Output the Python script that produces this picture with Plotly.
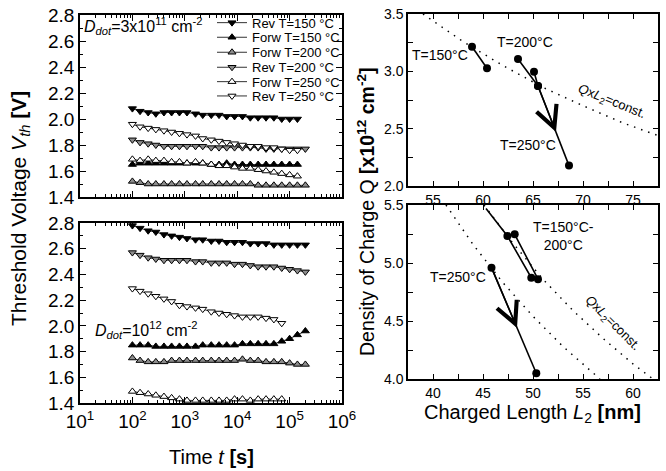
import plotly.graph_objects as go

FONT = "Liberation Sans, Arial, sans-serif"
W, H = 666, 471

# ---------------- data: left panels (threshold voltage vs time) ----------------
t_s = [100, 140, 200, 280, 400, 560, 790, 1100, 1600, 2200, 3200, 4500, 6300,
       8900, 12600, 17800, 25100, 35500, 50100, 70800, 100000, 141000, 200000]

# D_dot = 3x10^11 cm^-2
rev150_a = [2.08, 2.06, 2.05, 2.04, 2.05, 2.05, 2.05, 2.05, 2.04, 2.03, 2.03, 2.03,
            2.02, 2.02, 2.02, 2.01, 2.01, 2.01, 2.01, 2.00, 2.00, 2.00]
forw150_a = [1.65, 1.66, 1.66, 1.66, 1.66, 1.66, 1.66, 1.66, 1.66, 1.66, 1.65, 1.65,
             1.66, 1.65, 1.65, 1.65, 1.65, 1.65, 1.65, 1.65, 1.65, 1.65]
forw200_a = [1.52, 1.51, 1.50, 1.50, 1.50, 1.50, 1.50, 1.50, 1.50, 1.50, 1.50, 1.50,
             1.50, 1.50, 1.50, 1.50, 1.49, 1.49, 1.49, 1.49, 1.49, 1.49, 1.49]
rev200_a = [1.84, 1.82, 1.81, 1.80, 1.79, 1.79, 1.79, 1.79, 1.79, 1.79, 1.78, 1.78,
            1.78, 1.78, 1.78, 1.78, 1.78, 1.77, 1.77, 1.77, 1.77, 1.77, 1.77]
forw250_a = [1.69, 1.68, 1.69, 1.68, 1.68, 1.67, 1.67, 1.66, 1.67, 1.66, 1.65, 1.64,
             1.64, 1.63, 1.62, 1.62, 1.61, 1.60, 1.59, 1.58, 1.57, 1.56]
rev250_a = [1.96, 1.94, 1.93, 1.92, 1.91, 1.90, 1.89, 1.88, 1.87, 1.85, 1.84, 1.83,
            1.82, 1.81, 1.80, 1.79, 1.79, 1.78, 1.78, 1.77, 1.76, 1.76]

# D_dot = 10^12 cm^-2
rev150_b = [2.78, 2.76, 2.74, 2.73, 2.71, 2.70, 2.69, 2.68, 2.67, 2.67, 2.66, 2.66,
            2.65, 2.65, 2.65, 2.64, 2.64, 2.64, 2.63, 2.63, 2.63, 2.63, 2.63]
forw150_b = [1.85, 1.85, 1.85, 1.84, 1.84, 1.84, 1.84, 1.84, 1.84, 1.85, 1.85, 1.85,
             1.85, 1.85, 1.86, 1.86, 1.86, 1.86, 1.86, 1.88, 1.90, 1.93, 1.96]
forw200_b = [1.75, 1.73, 1.72, 1.72, 1.72, 1.73, 1.73, 1.73, 1.73, 1.73, 1.73, 1.73,
             1.73, 1.73, 1.74, 1.73, 1.73, 1.72, 1.72, 1.72, 1.71, 1.70, 1.70]
rev200_b = [2.57, 2.55, 2.53, 2.52, 2.51, 2.51, 2.51, 2.51, 2.50, 2.50, 2.49, 2.49,
            2.49, 2.48, 2.48, 2.47, 2.46, 2.46, 2.46, 2.45, 2.44, 2.43, 2.42]
forw250_b = [1.49, 1.48, 1.47, 1.46, 1.45, 1.44, 1.43, 1.42, 1.42, 1.42, 1.42, 1.42,
             1.42, 1.43, 1.43, 1.42, 1.43, 1.43, 1.43, 1.43]
rev250_b = [2.29, 2.27, 2.25, 2.23, 2.21, 2.19, 2.16, 2.15, 2.14, 2.13, 2.11, 2.10,
            2.09, 2.08, 2.07, 2.07, 2.07, 2.06, 2.05, 2.02]

series_names = ["Rev T=150 °C", "Forw T=150 °C", "Forw T=200 °C",
                "Rev T=200 °C", "Forw T=250 °C", "Rev T=250 °C"]
top_series = [rev150_a, forw150_a, forw200_a, rev200_a, forw250_a, rev250_a]
bot_series = [rev150_b, forw150_b, forw200_b, rev200_b, forw250_b, rev250_b]

x_tick_vals = [10, 100, 1000, 10000, 100000, 1000000]
x_tick_text = ["10<sup>1</sup>", "10<sup>2</sup>", "10<sup>3</sup>",
               "10<sup>4</sup>", "10<sup>5</sup>", "10<sup>6</sup>"]

# ---------------- data: right panels (charge density vs charged length) ----------------
L150_top = [58.9, 60.4]
Q150_top = [3.215, 3.027]
L200_top = [63.5, 65.5, 65.1]
Q200_top = [3.108, 2.872, 2.997]
L250_top = [65.5, 68.6]
Q250_top = [2.872, 2.178]
Lconst_top = [54.0, 58.0, 62.0, 66.0, 70.0, 74.0, 77.5]
Qconst_top = [3.50, 3.26, 3.05, 2.86, 2.70, 2.55, 2.44]

L150_200_bot = [45.3, 47.44, 49.83, 50.5, 48.17]
Q150_200_bot = [5.47, 5.233, 4.873, 4.86, 5.247]
L250_bot = [45.85, 50.33]
Q250_bot = [4.96, 4.05]
Lconst1_bot = [41.3, 44.0, 47.0, 50.0, 53.0, 56.7]
Qconst1_bot = [5.50, 5.16, 4.83, 4.54, 4.28, 4.00]
Lconst2_bot = [45.1, 48.0, 51.0, 54.0, 57.0, 60.0, 62.0]
Qconst2_bot = [5.50, 5.17, 4.86, 4.59, 4.35, 4.13, 4.00]

# ---------------- styles ----------------
styles = [
    dict(symbol="triangle-down", color="black"),
    dict(symbol="triangle-up", color="black"),
    dict(symbol="triangle-up", color="#8c8c8c"),
    dict(symbol="triangle-down", color="#8c8c8c"),
    dict(symbol="triangle-up", color="white"),
    dict(symbol="triangle-down", color="white"),
]
legend_y_px = [22.7, 37.3, 52.3, 67.3, 81.7, 96.0]


def px_x(p):
    return p / W


def px_y(p):
    return 1 - p / H


fig = go.Figure()

for i, (name, vals) in enumerate(zip(series_names, top_series)):
    st = styles[i]
    lg = "legend" if i == 0 else f"legend{i + 1}"
    fig.add_trace(go.Scatter(
        x=t_s[:len(vals)], y=vals, name=name, mode="lines+markers",
        xaxis="x", yaxis="y", legend=lg,
        line=dict(color="#333333", width=1),
        marker=dict(symbol=st["symbol"], size=7, color=st["color"],
                    line=dict(color="black", width=1)),
    ))

for i, vals in enumerate(bot_series):
    st = styles[i]
    fig.add_trace(go.Scatter(
        x=t_s[:len(vals)], y=vals, mode="lines+markers", showlegend=False,
        xaxis="x2", yaxis="y2",
        line=dict(color="#333333", width=1),
        marker=dict(symbol=st["symbol"], size=7, color=st["color"],
                    line=dict(color="black", width=1)),
    ))

dot_line = dict(color="black", width=1.5, dash="1.5px,6px")
fig.add_trace(go.Scatter(x=Lconst_top, y=Qconst_top, mode="lines", line=dot_line,
                         showlegend=False, xaxis="x3", yaxis="y3"))
fig.add_trace(go.Scatter(x=Lconst1_bot, y=Qconst1_bot, mode="lines", line=dot_line,
                         showlegend=False, xaxis="x4", yaxis="y4"))
fig.add_trace(go.Scatter(x=Lconst2_bot, y=Qconst2_bot, mode="lines", line=dot_line,
                         showlegend=False, xaxis="x4", yaxis="y4"))

solid = dict(color="black", width=1.6)
mk = dict(color="black", size=8, symbol="circle")
for Ls, Qs in [(L150_top, Q150_top), (L200_top, Q200_top), (L250_top, Q250_top)]:
    fig.add_trace(go.Scatter(x=Ls, y=Qs, mode="lines+markers", line=solid, marker=mk,
                             showlegend=False, xaxis="x3", yaxis="y3"))
fig.add_trace(go.Scatter(x=L150_200_bot, y=Q150_200_bot, mode="lines", line=solid,
                         showlegend=False, xaxis="x4", yaxis="y4"))
fig.add_trace(go.Scatter(x=L150_200_bot[1:], y=Q150_200_bot[1:], mode="markers", marker=mk,
                         showlegend=False, xaxis="x4", yaxis="y4"))
fig.add_trace(go.Scatter(x=L250_bot, y=Q250_bot, mode="lines+markers", line=solid, marker=mk,
                         showlegend=False, xaxis="x4", yaxis="y4"))

# ---------------- axes ----------------
minor_log = [m * 10 ** e for e in range(1, 6) for m in range(2, 10)]
common = dict(showline=True, linecolor="black", linewidth=1.5, mirror="ticks",
              ticks="inside", tickcolor="black", showgrid=False, zeroline=False,
              automargin=False)

left_x = (px_x(80), px_x(342))
right_x = (px_x(408), px_x(658))

fig.update_layout(
    template="none",
    width=W, height=H, margin=dict(l=0, r=0, t=0, b=0, pad=0, autoexpand=False),
    paper_bgcolor="white", plot_bgcolor="white",
    font=dict(family=FONT, color="black"),
    xaxis=dict(common, domain=left_x, type="log", range=[1, 6], anchor="y",
               tickmode="array", tickvals=x_tick_vals, ticktext=x_tick_text,
               showticklabels=False, ticklen=6,
               minor=dict(tickmode="array", tickvals=minor_log, ticks="inside",
                          ticklen=3, tickcolor="black", showgrid=False)),
    yaxis=dict(common, domain=(px_y(197), px_y(15)), range=[1.4, 2.8], anchor="x",
               dtick=0.2, tick0=1.4, tickformat=".1f", ticklen=6,
               tickfont=dict(size=19),
               minor=dict(dtick=0.1, ticks="inside", ticklen=3, tickcolor="black",
                          showgrid=False)),
    xaxis2=dict(common, domain=left_x, type="log", range=[1, 6], anchor="y2",
                tickmode="array", tickvals=x_tick_vals, ticktext=x_tick_text,
                ticklen=6, tickfont=dict(size=19),
                minor=dict(tickmode="array", tickvals=minor_log, ticks="inside",
                           ticklen=3, tickcolor="black", showgrid=False)),
    yaxis2=dict(common, domain=(px_y(403), px_y(223)), range=[1.4, 2.8], anchor="x2",
                dtick=0.2, tick0=1.4, tickformat=".1f", ticklen=6,
                tickfont=dict(size=19),
                minor=dict(dtick=0.1, ticks="inside", ticklen=3, tickcolor="black",
                           showgrid=False)),
    xaxis3=dict(common, domain=right_x, range=[52.5, 77.5], anchor="y3",
                dtick=5, tick0=0, ticklen=5, tickfont=dict(size=14),
                minor=dict(dtick=2.5, tick0=0, ticks="inside", ticklen=5,
                           tickcolor="black", showgrid=False)),
    yaxis3=dict(common, domain=(px_y(186), px_y(14)), range=[2.0, 3.5], anchor="x3",
                dtick=0.5, tick0=0, tickformat=".1f", ticklen=5,
                tickfont=dict(size=14),
                minor=dict(dtick=0.25, tick0=0, ticks="inside", ticklen=5,
                           tickcolor="black", showgrid=False)),
    xaxis4=dict(common, domain=right_x, range=[37.5, 62.5], anchor="y4",
                dtick=5, tick0=0, ticklen=5, tickfont=dict(size=14),
                minor=dict(dtick=2.5, tick0=0, ticks="inside", ticklen=5,
                           tickcolor="black", showgrid=False)),
    yaxis4=dict(common, domain=(px_y(379), px_y(205)), range=[4.0, 5.5], anchor="x4",
                dtick=0.5, tick0=0, tickformat=".1f", ticklen=5,
                tickfont=dict(size=14),
                minor=dict(dtick=0.25, tick0=0, ticks="inside", ticklen=5,
                           tickcolor="black", showgrid=False)),
)

# one single-entry legend per series so the entries can sit close together
for i, ypx in enumerate(legend_y_px):
    key = "legend" if i == 0 else f"legend{i + 1}"
    fig.update_layout(**{key: dict(
        x=px_x(212), xanchor="left", y=px_y(ypx), yanchor="middle",
        bgcolor="rgba(0,0,0,0)", borderwidth=0, itemwidth=30,
        font=dict(size=13, family=FONT, color="black"))})

# ---------------- text ----------------
ann = []
ann.append(dict(xref="paper", yref="paper", x=px_x(20), y=px_y(209), textangle=-90,
                text="Threshold Voltage <i>V</i><sub><i>th</i></sub> <b>[V]</b>",
                showarrow=False, font=dict(size=21), xanchor="center", yanchor="middle"))
ann.append(dict(xref="paper", yref="paper", x=px_x(211), y=px_y(457),
                text="Time <i>t</i> <b>[s]</b>", showarrow=False, font=dict(size=20),
                xanchor="center", yanchor="middle"))
ann.append(dict(xref="paper", yref="paper", x=px_x(366), y=px_y(212), textangle=-90,
                text="Density of Charge Q <b>[x10<sup>12</sup> cm<sup>-2</sup>]</b>",
                showarrow=False, font=dict(size=19.5), xanchor="center", yanchor="middle"))
ann.append(dict(xref="paper", yref="paper", x=px_x(532), y=px_y(413),
                text="Charged Length <i>L</i><sub>2</sub> <b>[nm]</b>",
                showarrow=False, font=dict(size=20), xanchor="center", yanchor="middle"))
ann.append(dict(xref="paper", yref="paper", x=px_x(82), y=px_y(26), xanchor="left",
                yanchor="middle", showarrow=False, font=dict(size=16),
                text="<i>D</i><sub><i>dot</i></sub>=3x10<sup>11</sup> cm<sup>-2</sup>"))
ann.append(dict(xref="paper", yref="paper", x=px_x(93), y=px_y(330), xanchor="left",
                yanchor="middle", showarrow=False, font=dict(size=16),
                text="<i>D</i><sub><i>dot</i></sub>=10<sup>12</sup> cm<sup>-2</sup>"))

tfont = dict(size=14)
ann += [
    dict(xref="x3", yref="y3", x=55.7, y=3.14, text="T=150°C", showarrow=False, font=tfont),
    dict(xref="x3", yref="y3", x=64.2, y=3.26, text="T=200°C", showarrow=False, font=tfont),
    dict(xref="x3", yref="y3", x=64.5, y=2.36, text="T=250°C", showarrow=False, font=tfont),
    dict(xref="x3", yref="y3", x=72.8, y=2.735, textangle=22, showarrow=False,
         font=dict(size=13), text="<i>Q</i>x<i>L</i><sub>2</sub>=const."),
    dict(xref="x4", yref="y4", x=53.05, y=5.23, text="T=150°C-<br>200°C",
         showarrow=False, font=tfont),
    dict(xref="x4", yref="y4", x=42.5, y=4.877, text="T=250°C", showarrow=False, font=tfont),
    dict(xref="x4", yref="y4", x=57.97, y=4.48, textangle=45, showarrow=False,
         font=dict(size=13), text="<i>Q</i>x<i>L</i><sub>2</sub>=const."),
    # open arrowheads along the T=250 °C paths
    dict(xref="x3", yref="y3", axref="x3", ayref="y3", x=67.3, y=2.47, ax=65.5, ay=2.872,
         text="", showarrow=True, arrowhead=5, arrowsize=2.8, arrowwidth=1.5,
         arrowcolor="black", standoff=0, startstandoff=0),
    dict(xref="x4", yref="y4", axref="x4", ayref="y4", x=48.4, y=4.44, ax=45.85, ay=4.96,
         text="", showarrow=True, arrowhead=5, arrowsize=2.8, arrowwidth=1.5,
         arrowcolor="black", standoff=0, startstandoff=0),
]
fig.update_layout(annotations=ann)

# remove the browser's default page margin so the 666x471 figure fills the window
fig.write_html("out.html", config={"displayModeBar": False},
               post_script="document.body.style.margin='0px';"
                           "document.body.style.overflow='hidden';")
